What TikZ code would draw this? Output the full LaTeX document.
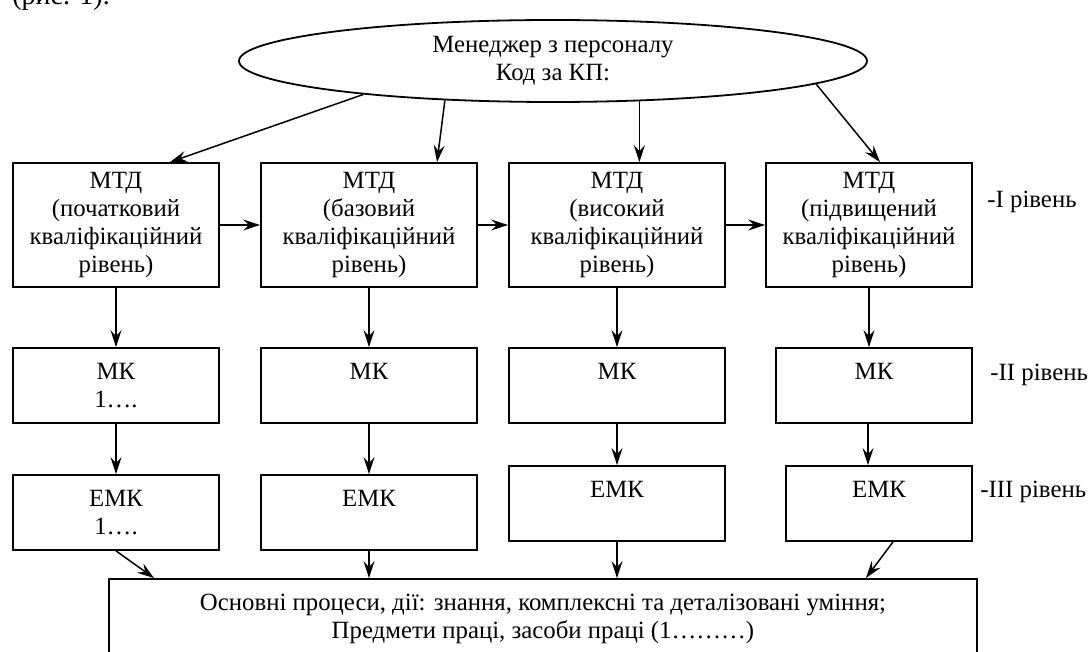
\documentclass[tikz,border=0pt]{standalone}
\usepackage{fontspec}
\setmainfont{Liberation Serif}
\usetikzlibrary{arrows.meta,shapes.geometric}
\tikzset{
	mtdbox/.style={draw, line width=0.9pt, align=center, inner sep=0pt, minimum height=62pt},
	smallbox/.style={draw, line width=0.9pt, align=center, inner sep=0pt, minimum height=37.5pt},
	link/.style={line width=0.75pt, -{Stealth[length=8.5pt,width=5.5pt,inset=3pt]}},
	lvltext/.style={anchor=west, inner sep=0pt}
}

\begin{document}
\begin{tikzpicture}[x=0.5pt, y=-0.5pt, font=\fontsize{12.4pt}{13.9pt}\selectfont]
	\useasboundingbox (0,0) rectangle (1089,652);

	\node[anchor=base west, inner sep=0pt, font=\fontsize{14pt}{16pt}\selectfont] (cap) at (12,5) {(рис. 1).};

	\node[draw, ellipse, line width=0.9pt, minimum width=314pt, minimum height=41pt, inner sep=0pt, align=center] (mgr) at (553,61) {Менеджер з персоналу\\Код за КП:};

	\node[mtdbox, minimum width=103pt] (mtdA) at (116,225) {МТД\\(початковий\\кваліфікаційний\\рівень)};
	\node[mtdbox, minimum width=108pt] (mtdB) at (369,225) {МТД\\(базовий\\кваліфікаційний\\рівень)};
	\node[mtdbox, minimum width=108pt] (mtdC) at (617,225) {МТД\\(високий\\кваліфікаційний\\рівень)};
	\node[mtdbox, minimum width=103pt] (mtdD) at (869,225) {МТД\\(підвищений\\кваліфікаційний\\рівень)};

	\node[smallbox, minimum width=103pt] (mkA) at (116,385.5) {МК\\1….};
	\node[smallbox, minimum width=108pt] (mkB) at (369,385.5) {МК\\\phantom{1}};
	\node[smallbox, minimum width=108pt] (mkC) at (617,385.5) {МК\\\phantom{1}};
	\node[smallbox, minimum width=98pt] (mkD) at (874,385.5) {МК\\\phantom{1}};

	\node[smallbox, minimum width=103pt] (emkA) at (116,512.5) {ЕМК\\1….};
	\node[smallbox, minimum width=108pt] (emkB) at (369,512.5) {ЕМК\\\phantom{1}};
	\node[smallbox, minimum width=108pt] (emkC) at (617,503.5) {ЕМК\\\phantom{1}};
	\node[smallbox, minimum width=93pt] (emkD) at (879,503.5) {ЕМК\\\phantom{1}};

	\node[draw, line width=0.9pt, minimum width=434pt, minimum height=40pt, inner sep=0pt, align=center] (base) at (543,619) {Основні процеси, дії: знання, комплексні та деталізовані уміння;\\Предмети праці, засоби праці (1………)};

	\node[lvltext] (lvlI) at (987,202) {-I рівень};
	\node[lvltext] (lvlII) at (990,375) {-II рівень};
	\node[lvltext] (lvlIII) at (980,492) {-III рівень};

	\draw[link] (mgr.190) -- ([xshift=27pt]mtdA.north);
	\draw[link] (mgr.200) -- ([xshift=34pt]mtdB.north);
	\draw[link] (mgr.335) -- (mgr.335 |- mtdC.north);
	\draw[link] (mgr.355) -- ([xshift=5.5pt]mtdD.north);

	\draw[link] (mtdA) -- (mtdB);
	\draw[link] (mtdB) -- (mtdC);
	\draw[link] (mtdC) -- (mtdD);

	\draw[link] (mtdA.south) -- (mtdA.south |- mkA.north);
	\draw[link] (mtdB.south) -- (mtdB.south |- mkB.north);
	\draw[link] (mtdC.south) -- (mtdC.south |- mkC.north);
	\draw[link] (mtdD.south) -- (mtdD.south |- mkD.north);

	\draw[link] (mkA) -- (emkA);
	\draw[link] (mkB) -- (emkB);
	\draw[link] (mkC) -- (emkC);
	\draw[link] ([xshift=-3pt]mkD.south) -- ([xshift=-5.5pt]emkD.north);

	\draw[link] (emkA.south) -- ([xshift=23pt]base.north west);
	\draw[link] (emkB.south) -- (emkB.south |- base.north);
	\draw[link] (emkC.south) -- (emkC.south |- base.north);
	\draw[link] ([xshift=7pt]emkD.south) -- ([xshift=-56pt]base.north east);
\end{tikzpicture}
\end{document}
